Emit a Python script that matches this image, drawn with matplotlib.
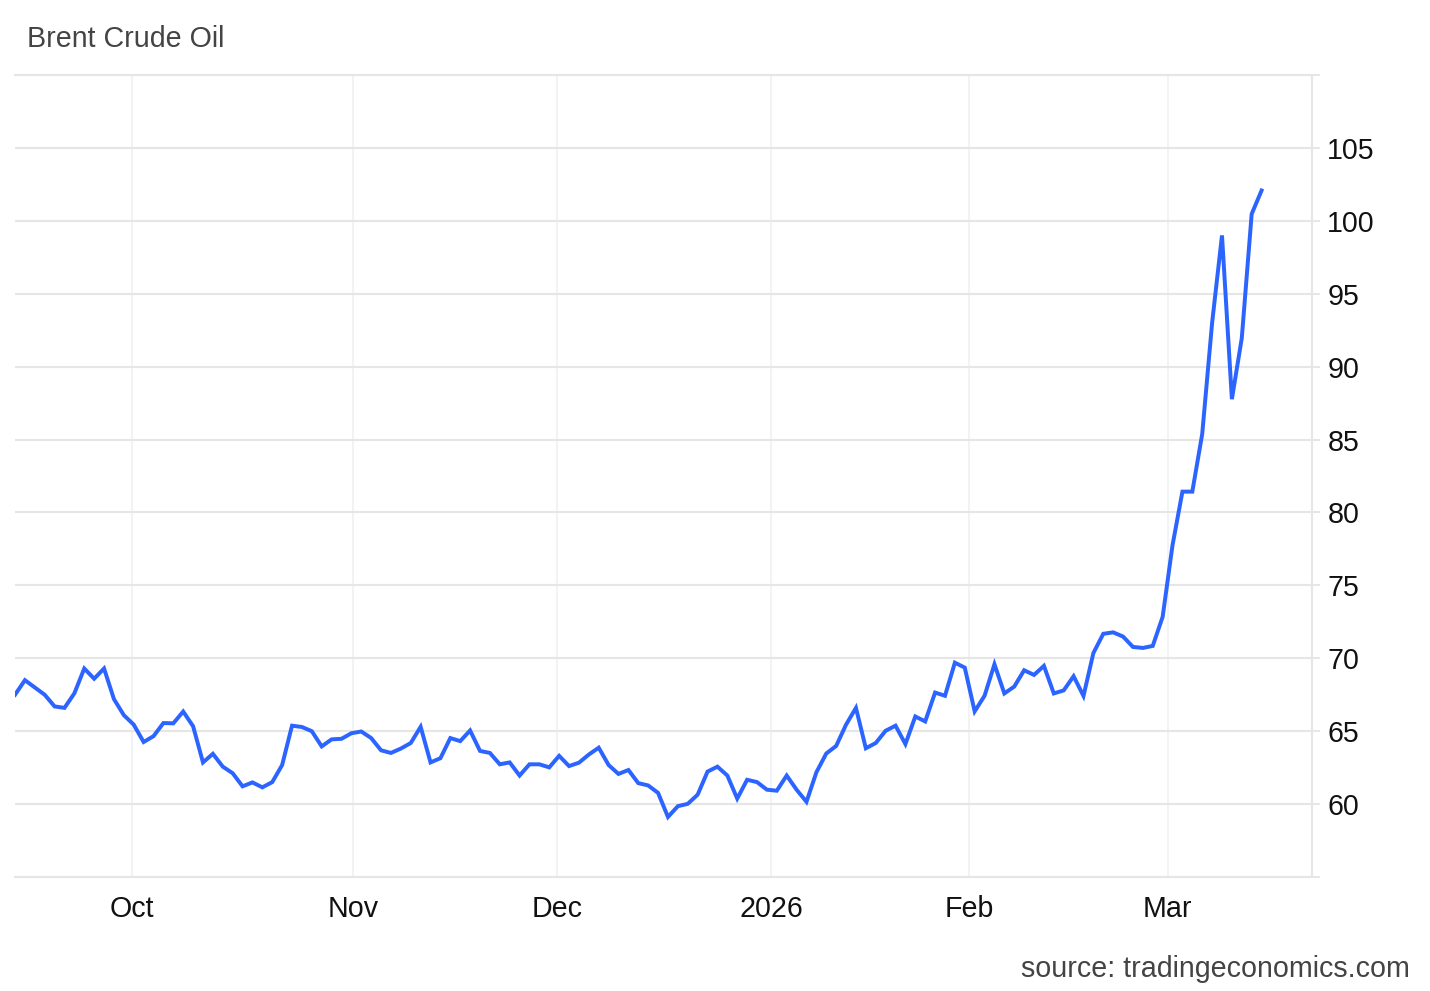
import matplotlib
matplotlib.use('Agg')
import matplotlib.pyplot as plt

# Brent daily closes (trading days, mid Sep 2025 -> mid Mar 2026)
prices = [67.5, 68.5, 68.0, 67.5, 66.7, 66.6, 67.6, 69.3, 68.6, 69.3,
          67.2, 66.1, 65.45, 64.26, 64.66, 65.56, 65.54, 66.35, 65.34, 62.86,
          63.45, 62.57, 62.12, 61.22, 61.49, 61.15, 61.51, 62.68, 65.38, 65.29,
          65.0, 63.96, 64.44, 64.48, 64.86, 64.98, 64.53, 63.69, 63.51, 63.81,
          64.19, 65.3, 62.86, 63.15, 64.53, 64.32, 65.05, 63.65, 63.51, 62.73,
          62.86, 61.96, 62.73, 62.73, 62.52, 63.31, 62.61, 62.84, 63.4, 63.87,
          62.68, 62.07, 62.34, 61.44, 61.28, 60.77, 59.12, 59.86, 60.02, 60.65,
          62.23, 62.57, 61.96, 60.38, 61.67, 61.51, 60.99, 60.92, 61.96, 60.99,
          60.16, 62.18, 63.47, 63.99, 65.45, 66.6, 63.83, 64.19, 65.03, 65.38,
          64.12, 66.01, 65.67, 67.65, 67.43, 69.7, 69.36, 66.36, 67.43, 69.59,
          67.59, 68.06, 69.18, 68.86, 69.48, 67.59, 67.8, 68.77, 67.42, 70.36,
          71.68, 71.78, 71.49, 70.78, 70.71, 70.85, 72.84, 77.76, 81.43, 81.43,
          85.38, 93.0, 99.0, 87.77, 91.96, 100.47, 102.08]

# month labels and where they sit along the trading-day index
month_labels = ['Oct', 'Nov', 'Dec', '2026', 'Feb', 'Mar']
month_pos = [11.83, 34.14, 54.8, 76.44, 96.42, 116.5]

y_ticks = [55, 60, 65, 70, 75, 80, 85, 90, 95, 100, 105, 110]

plt.rcParams['font.family'] = ['Liberation Sans', 'DejaVu Sans']

fig = plt.figure(figsize=(14.3, 9.91), dpi=100)
ax = fig.add_axes([0.0105, 0.115, 0.907, 0.8093])

x = list(range(len(prices)))
ax.plot(x, prices, color='#2b64ff', linewidth=2.85, solid_joinstyle='miter', zorder=3)

ax.set_xlim(0, 131.1)
ax.set_ylim(55, 110)

ax.set_xticks(month_pos)
ax.set_xticklabels(month_labels, fontsize=20.6, color='#111111')
ax.tick_params(axis='x', length=0, pad=13)

ax.yaxis.tick_right()
ax.set_yticks(y_ticks)
ax.set_yticklabels(['' if v in (55, 110) else str(v) for v in y_ticks],
                   fontsize=20.6, color='#111111')
ax.tick_params(axis='y', length=6, width=1.4, color='#e6e6e6', pad=5)

ax.grid(axis='y', color='#e6e6e6', linewidth=1.5)
ax.grid(axis='x', color='#eef2f6', linewidth=1.2)
ax.set_axisbelow(True)

ax.spines['left'].set_visible(False)
for side in ['top', 'bottom', 'right']:
    ax.spines[side].set_color('#e6e6e6')
    ax.spines[side].set_linewidth(1.5)

fig.text(27 / 1430, 1 - 39 / 991, 'Brent Crude Oil', fontsize=20.6,
         color='#444444', ha='left', va='center')
fig.text(1410 / 1430, 1 - 969 / 991, 'source: tradingeconomics.com', fontsize=20.6,
         color='#444444', ha='right', va='center')

plt.savefig('out.png', dpi=100)
